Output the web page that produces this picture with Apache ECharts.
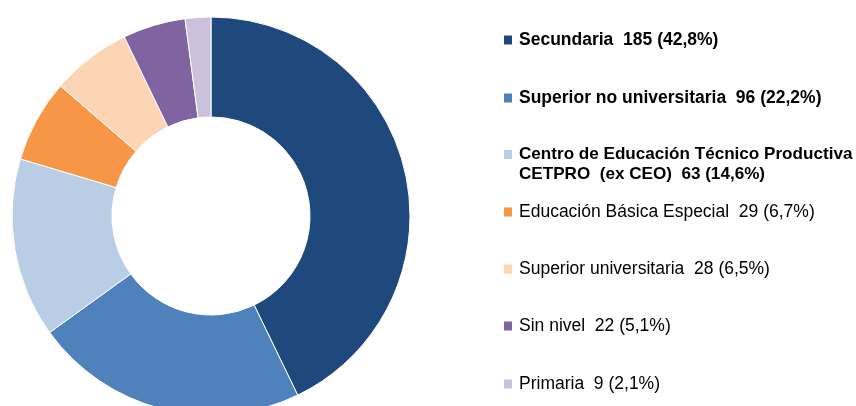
<!DOCTYPE html>
<html>
<head>
<meta charset="utf-8">
<script src="https://cdn.jsdelivr.net/npm/echarts@6/dist/echarts.min.js"></script>
<style>
  html, body { margin: 0; padding: 0; background: #fff; }
  #chart { width: 856px; height: 406px; }
</style>
</head>
<body>
<div id="chart"></div>
<script>
// niveles educativos y cantidades
var niveles = [
    'Secundaria',
    'Superior no universitaria',
    'Centro de Educación Técnico Productiva CETPRO  (ex CEO)',
    'Educación Básica Especial',
    'Superior universitaria',
    'Sin nivel',
    'Primaria'
];
var cantidades = [185, 96, 63, 29, 28, 22, 9];
var colores = ['#1F497D', '#4F81BD', '#B9CDE5', '#F79646', '#FCD5B5', '#8064A2', '#CCC1DA'];
var negrita = [true, true, true, false, false, false, false];

var legendTops = [31, 89, 146, 203, 260, 317, 375];

var total = cantidades.reduce(function (a, b) { return a + b; }, 0);

var chart = echarts.init(document.getElementById('chart'), null, { renderer: 'canvas' });

var fmt = function (name) {
    var i = niveles.indexOf(name);
    var pct = (cantidades[i] / total * 100).toFixed(1).replace('.', ',');
    var txt = name.replace(' CETPRO', '\nCETPRO') + '  ' + cantidades[i] + ' (' + pct + '%)';
    var st = negrita[i] ? (txt.indexOf('\n') >= 0 ? 'c' : 'b') : 'n';
    return txt.split('\n').map(function (l) { return '{' + st + '|' + l + '}'; }).join('\n');
};

var legends = niveles.map(function (n, i) {
    return {
        data: [n],
        left: 502,
        top: legendTops[i],
        padding: 0,
        icon: 'rect',
        itemWidth: 10,
        itemHeight: 11,
        selectedMode: false,
        formatter: fmt,
        textStyle: {
            padding: n.indexOf('CETPRO') >= 0 ? [20, 0, 0, 1] : [0, 0, 0, 1],
            rich: {
                b: { fontFamily: 'Liberation Sans', fontSize: 17.5, fontWeight: 'bold', color: '#000', lineHeight: 20 },
                c: { fontFamily: 'Liberation Sans', fontSize: 17.1, fontWeight: 'bold', color: '#000', lineHeight: 20 },
                n: { fontFamily: 'Liberation Sans', fontSize: 17.5, color: '#000', lineHeight: 20 }
            }
        }
    };
});

chart.setOption({
    animation: false,
    color: colores,
    legend: legends,
    series: [{
        type: 'pie',
        radius: [99, 199],
        center: [211, 216],
        startAngle: 90,
        clockwise: true,
        label: { show: false },
        labelLine: { show: false },
        emphasis: { disabled: true },
        itemStyle: { borderColor: '#fff', borderWidth: 1 },
        data: niveles.map(function (n, i) {
            return { name: n, value: cantidades[i] };
        })
    }]
});
</script>
</body>
</html>
